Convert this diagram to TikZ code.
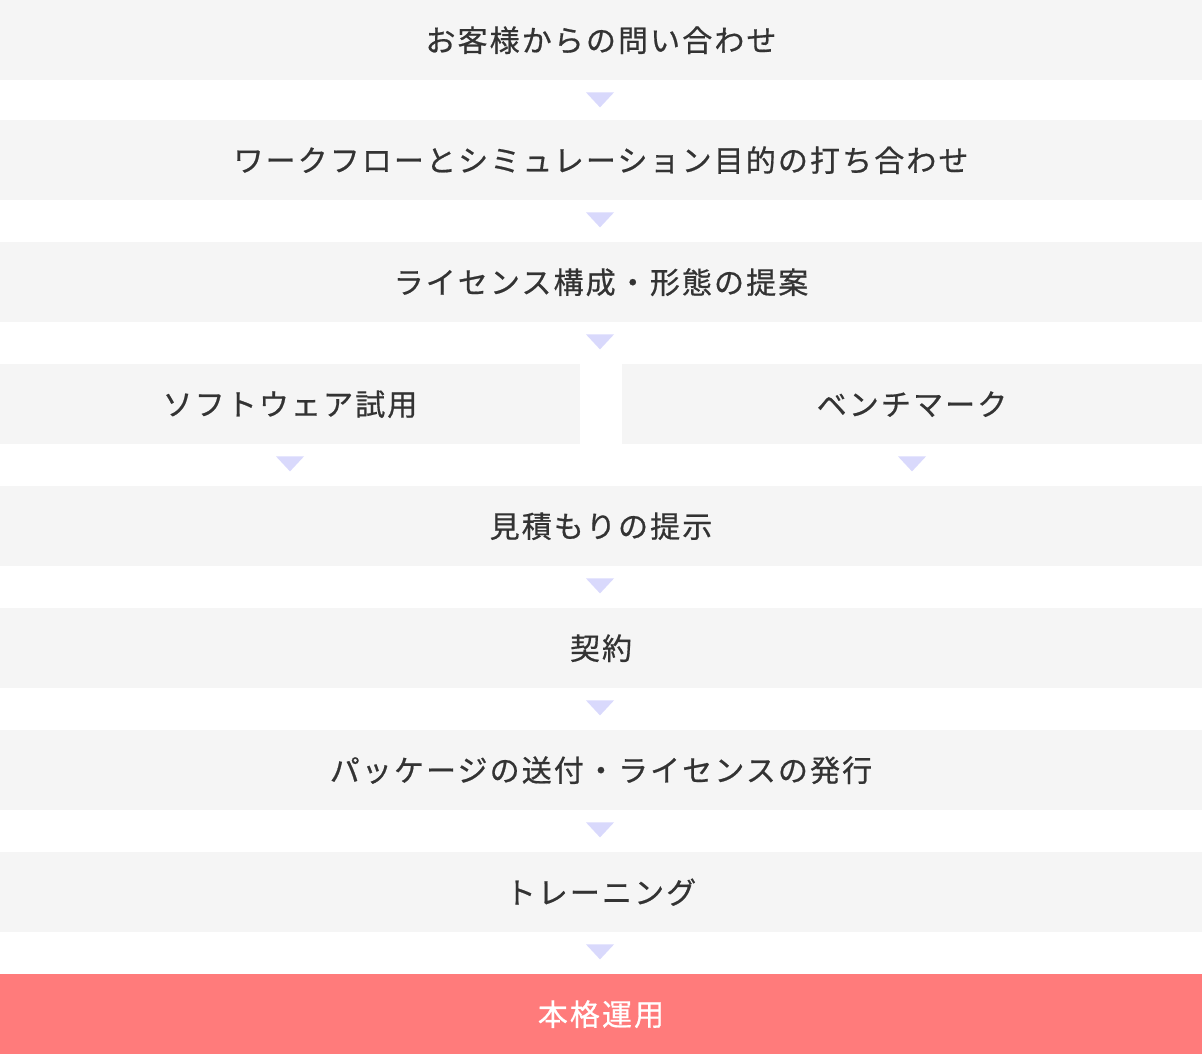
\documentclass[tikz,border=0pt]{standalone}
\usepackage{fontspec}
\setmainfont{Noto Sans CJK JP}[LetterSpace=7, FakeBold=0.6]
\usetikzlibrary{calc}
\definecolor{boxgray}{HTML}{F5F5F5}
\definecolor{tri}{HTML}{D9D9FC}
\definecolor{finalred}{HTML}{FF7B7B}
\definecolor{txt}{HTML}{333333}
\tikzset{
  stepbox/.style={rectangle, fill=boxgray, inner sep=0pt, minimum height=80pt,
    minimum width=1202pt, font=\fontsize{30pt}{36pt}\selectfont, text=txt, anchor=north},
  halfbox/.style={stepbox, minimum width=580pt},
  finalbox/.style={stepbox, fill=finalred, text=white},
  arrowtri/.style={fill=tri, draw=none}
}
\newcommand{\tridown}[1]{\fill[arrowtri] ($#1+(-14pt,-12pt)$) -- ($#1+(14pt,-12pt)$) -- ($#1+(0pt,-27pt)$) -- cycle;}
\begin{document}
\begin{tikzpicture}[x=1pt,y=1pt]
\useasboundingbox (0,0) rectangle (1202,-1054);
\node[stepbox] (a) at (601,0) {お客様からの問い合わせ};
\node[stepbox] (b) at (601,-120) {ワークフローとシミュレーション目的の打ち合わせ};
\node[stepbox] (c) at (601,-242) {ライセンス構成・形態の提案};
\node[halfbox] (d1) at (290,-364) {ソフトウェア試用};
\node[halfbox] (d2) at (912,-364) {ベンチマーク};
\node[stepbox] (e) at (601,-486) {見積もりの提示};
\node[stepbox] (f) at (601,-608) {契約};
\node[stepbox] (g) at (601,-730) {パッケージの送付・ライセンスの発行};
\node[stepbox] (h) at (601,-852) {トレーニング};
\node[finalbox] (i) at (601,-974) {本格運用};
\coordinate (ta) at ($(a.south)+(-1,0)$);
\coordinate (tb) at ($(b.south)+(-1,0)$);
\coordinate (tc) at ($(c.south)+(-1,0)$);
\coordinate (te) at ($(e.south)+(-1,0)$);
\coordinate (tf) at ($(f.south)+(-1,0)$);
\coordinate (tg) at ($(g.south)+(-1,0)$);
\coordinate (th) at ($(h.south)+(-1,0)$);
\tridown{(ta)}
\tridown{(tb)}
\tridown{(tc)}
\tridown{(d1.south)}
\tridown{(d2.south)}
\tridown{(te)}
\tridown{(tf)}
\tridown{(tg)}
\tridown{(th)}
\end{tikzpicture}
\end{document}
